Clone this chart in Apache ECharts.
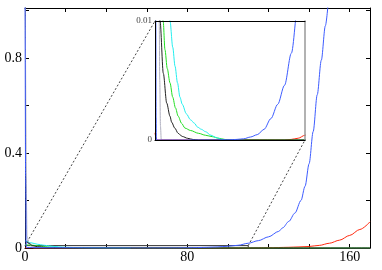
<!DOCTYPE html>
<html>
<head>
<meta charset="utf-8">
<script src="https://cdn.jsdelivr.net/npm/echarts@6/dist/echarts.min.js"></script>
<style>html,body{margin:0;padding:0;background:#fff;}#c{width:382px;height:270px;}</style>
</head>
<body>
<div id="c"></div>
<script>
// ---- data ----
const xTicks = [0, 80, 160];
const yTicks = [0, 0.4, 0.8];
const insetYTicks = [0, 0.01];
const insetX = [0, 110];
const insetY = [0, 0.01];

const blueX = [0, 0.3, 0.6, 0.8, 1, 45, 55, 60, 65, 70, 75, 80, 85, 90, 95, 100, 105, 110, 115, 120, 125, 127, 130, 133, 136, 138, 140, 142, 144, 146, 148, 149.5];
const blueY = [1.2, 0.3, 0.01, 0.002, 0, 0, 0.00002, 0.00005, 0.0001, 0.00025, 0.00045, 0.0009, 0.0018, 0.003, 0.0046, 0.0073, 0.0115, 0.02, 0.031, 0.047, 0.07, 0.085, 0.112, 0.147, 0.2, 0.26, 0.355, 0.49, 0.645, 0.79, 0.935, 1.04];

const grayX = [0, 1, 2, 3.1, 3.5, 4, 4.6, 170];
const grayY = [1.2, 0.05, 0.016, 0.01, 0.005, 0.0012, 0, 0];

const blackX = [0, 2, 3.7, 6.1, 8.6, 11, 12.2, 14.5, 17, 20, 24, 28, 32, 170];
const blackY = [0.03, 0.02, 0.01, 0.0056, 0.0031, 0.002, 0.0015, 0.001, 0.00056, 0.0003, 0.00014, 0.00004, 0, 0];

const greenX = [0, 3, 6, 7.3, 9, 11, 13, 15, 17, 19.5, 22, 26, 32, 37, 42, 47, 51, 55, 170];
const greenY = [0.014, 0.012, 0.01, 0.0076, 0.006, 0.0048, 0.0036, 0.0027, 0.002, 0.0014, 0.001, 0.0008, 0.00056, 0.0004, 0.00028, 0.00014, 0.00005, 0, 0];

const cyanX = [0, 3, 6, 9, 11, 13, 14.7, 16.5, 18.3, 20, 23, 26, 29, 31, 34, 37, 41, 45, 49, 52];
const cyanY = [0.03, 0.022, 0.016, 0.012, 0.01, 0.0078, 0.0062, 0.0048, 0.0036, 0.003, 0.0022, 0.0017, 0.0014, 0.0011, 0.0009, 0.0007, 0.0004, 0.0002, 0.00005, 0];

const redX = [0, 1, 2, 95, 100, 105, 110, 115, 120, 125, 130, 135, 140, 145, 150, 155, 160, 165, 170];
const redY = [0.0006, 0.0001, 0, 0, 0.00005, 0.00015, 0.0004, 0.0007, 0.0012, 0.002, 0.003, 0.0045, 0.0065, 0.011, 0.02, 0.033, 0.053, 0.078, 0.11];

// ---- chart ----
const FONT = 'Liberation Serif';
const zip = (xs, ys) => xs.map((x, i) => [x, ys[i]]);
const isTick = (v, list) => list.some(t => Math.abs(t - v) < 1e-9);

const curves = [
  {name: 'gray', xs: grayX, ys: grayY, color: '#b0b0c0'},
  {name: 'red', xs: redX, ys: redY, color: '#ff2a10'},
  {name: 'green', xs: greenX, ys: greenY, color: '#22dd22'},
  {name: 'cyan', xs: cyanX, ys: cyanY, color: '#22eeee'},
  {name: 'black', xs: blackX, ys: blackY, color: '#222222'},
  {name: 'blue', xs: blueX, ys: blueY, color: '#3d5cff'}
];

const series = [];
curves.forEach(c => {
  [[0, 0], [2, 2]].forEach(([xi, yi]) => {
    series.push({
      type: 'line', name: c.name, xAxisIndex: xi, yAxisIndex: yi,
      data: zip(c.xs, c.ys), showSymbol: false, symbol: 'none',
      smooth: 0.3, smoothMonotone: 'x',
      lineStyle: {color: c.color, width: 1}, itemStyle: {color: c.color},
      clip: true, animation: false, silent: true
    });
  });
});
// zoom rectangle on the main axes
series.push({
  type: 'line', xAxisIndex: 0, yAxisIndex: 0,
  data: [[insetX[0], insetY[1]], [insetX[1], insetY[1]], [insetX[1], insetY[0]]],
  showSymbol: false, symbol: 'none', lineStyle: {color: '#333', width: 1},
  animation: false, silent: true, z: 1
});

const mainTick = {show: true, inside: true, length: 4, lineStyle: {color: '#000', width: 1}};
const blackLine = {show: true, onZero: false, lineStyle: {color: '#000', width: 1}};

const option = {
  backgroundColor: '#fff',
  animation: false,
  grid: [
    {left: 25, right: 12, top: 8, bottom: 22, containLabel: false},
    {left: 155, top: 21, width: 150, height: 119, show: true, backgroundColor: '#fff', borderWidth: 0, z: 3}
  ],
  xAxis: [
    {gridIndex: 0, type: 'value', min: 0, max: 170, interval: 20, position: 'bottom',
     axisLine: blackLine, axisTick: mainTick, splitLine: {show: false},
     axisLabel: {formatter: v => isTick(v, xTicks) ? String(v) : '', fontFamily: FONT, fontSize: 14, color: '#000', margin: 2, showMaxLabel: true}},
    {gridIndex: 0, type: 'value', min: 0, max: 170, interval: 20, position: 'top',
     axisLine: blackLine, axisTick: mainTick, splitLine: {show: false}, axisLabel: {show: false}},
    {gridIndex: 1, type: 'value', min: insetX[0], max: insetX[1], position: 'bottom', z: 4,
     axisLine: blackLine, axisTick: {show: false}, splitLine: {show: false}, axisLabel: {show: false}},
    {gridIndex: 1, type: 'value', min: insetX[0], max: insetX[1], position: 'top', z: 4,
     axisLine: blackLine, axisTick: {show: false}, splitLine: {show: false}, axisLabel: {show: false}}
  ],
  yAxis: [
    {gridIndex: 0, type: 'value', min: 0, max: 1.01, interval: 0.2, position: 'left',
     axisLine: blackLine, axisTick: mainTick, splitLine: {show: false},
     axisLabel: {formatter: v => isTick(v, yTicks) ? String(+v.toFixed(2)) : '', fontFamily: FONT, fontSize: 14, color: '#000', margin: 3}},
    {gridIndex: 0, type: 'value', min: 0, max: 1.01, interval: 0.2, position: 'right',
     axisLine: blackLine, axisTick: mainTick, splitLine: {show: false}, axisLabel: {show: false}},
    {gridIndex: 1, type: 'value', min: insetY[0], max: insetY[1], interval: 0.01, position: 'left', z: 4,
     axisLine: blackLine, axisTick: {show: false}, splitLine: {show: false},
     axisLabel: {formatter: v => isTick(v, insetYTicks) ? String(+v.toFixed(2)) : '', fontFamily: FONT, fontSize: 9, color: '#444', margin: 3}},
    {gridIndex: 1, type: 'value', min: insetY[0], max: insetY[1], position: 'right', z: 4,
     axisLine: {show: true, onZero: false, lineStyle: {color: '#999', width: 1.5}}, axisTick: {show: false}, splitLine: {show: false}, axisLabel: {show: false}}
  ],
  series: series
};

const chart = echarts.init(document.getElementById('c'), null, {renderer: 'canvas'});
chart.setOption(option);

// dashed connector lines from the zoom rectangle to the inset
const a1 = chart.convertToPixel({xAxisIndex: 0, yAxisIndex: 0}, [insetX[0], insetY[1]]);
const b1 = chart.convertToPixel({xAxisIndex: 2, yAxisIndex: 2}, [insetX[0], insetY[1]]);
const a2 = chart.convertToPixel({xAxisIndex: 0, yAxisIndex: 0}, [insetX[1], insetY[1]]);
const b2 = chart.convertToPixel({xAxisIndex: 2, yAxisIndex: 2}, [insetX[1], insetY[0]]);
const dash = {stroke: '#444', lineWidth: 1, lineDash: [2, 2]};
chart.setOption({
  graphic: [
    {type: 'line', shape: {x1: a1[0], y1: a1[1], x2: b1[0], y2: b1[1]}, style: dash, z: 1, silent: true},
    {type: 'line', shape: {x1: a2[0], y1: a2[1], x2: b2[0], y2: b2[1]}, style: dash, z: 1, silent: true}
  ]
});
</script>
</body>
</html>
